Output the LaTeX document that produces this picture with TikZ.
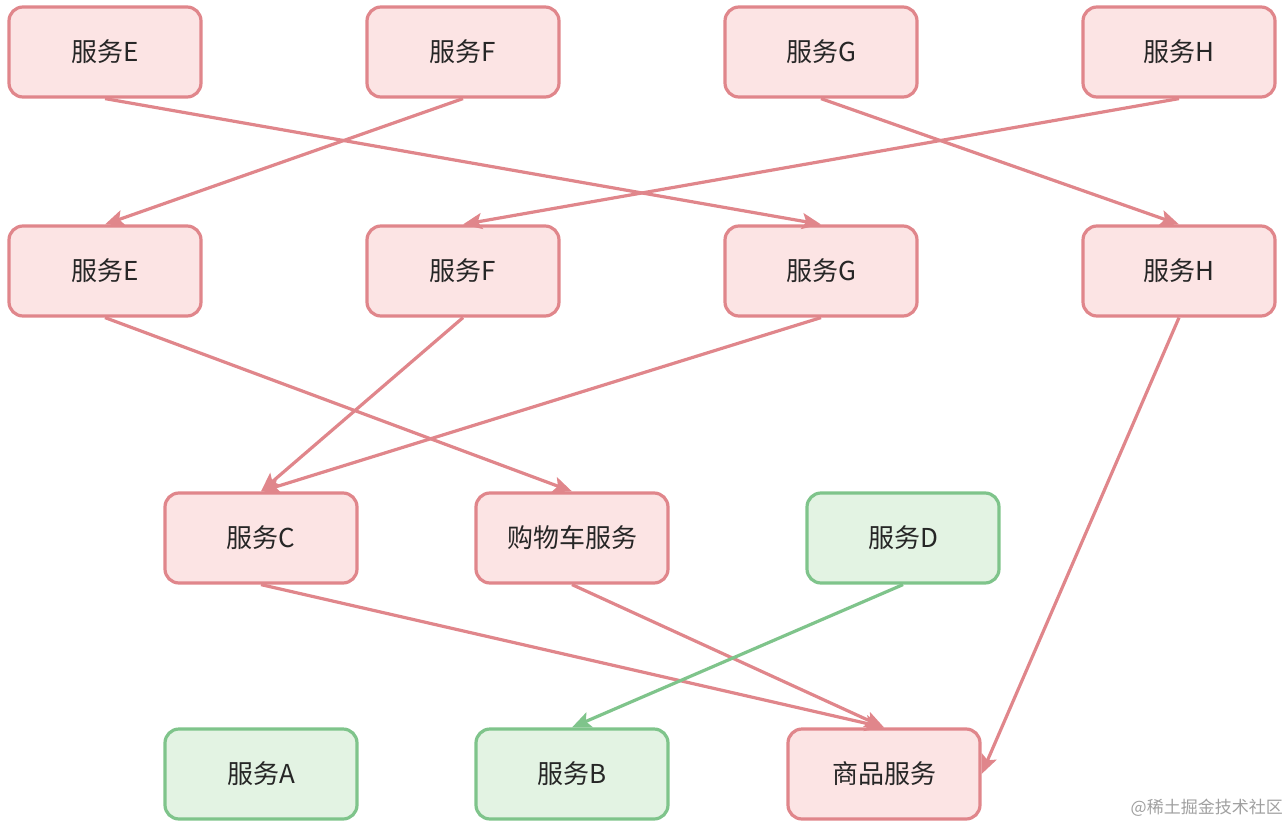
\documentclass[tikz,border=0pt]{standalone}
\usepackage{fontspec}
\setmainfont{Noto Sans CJK SC}
\usetikzlibrary{arrows.meta}
\definecolor{redstroke}{HTML}{E0868B}
\definecolor{redfill}{HTML}{FCE4E4}
\definecolor{greenstroke}{HTML}{7FC48B}
\definecolor{greenfill}{HTML}{E3F3E3}
\definecolor{txt}{HTML}{262626}
\definecolor{wm}{HTML}{A0A0A0}
\tikzset{
  svc/.style={rectangle, rounded corners=14pt, line width=3.2pt, minimum width=192pt, minimum height=90pt, inner sep=0pt, text=txt, font=\fontsize{26}{30}\selectfont},
  redbox/.style={svc, draw=redstroke, fill=redfill},
  greenbox/.style={svc, draw=greenstroke, fill=greenfill},
  conn/.style={line width=3.2pt, -{Stealth[length=19pt,width=16pt,inset=4pt]}},
  redconn/.style={conn, draw=redstroke, fill=redstroke},
  greenconn/.style={conn, draw=greenstroke, fill=greenstroke},
}
\begin{document}
\begin{tikzpicture}[x=1pt,y=-1pt]
\useasboundingbox (0,0) rectangle (1288,827);
% row 1
\node[redbox] (E1) at (105,52) {服务E};
\node[redbox] (F1) at (463,52) {服务F};
\node[redbox] (G1) at (821,52) {服务G};
\node[redbox] (H1) at (1179,52) {服务H};
% row 2
\node[redbox] (E2) at (105,271) {服务E};
\node[redbox] (F2) at (463,271) {服务F};
\node[redbox] (G2) at (821,271) {服务G};
\node[redbox] (H2) at (1179,271) {服务H};
% row 3
\node[redbox] (C) at (261,538) {服务C};
\node[redbox] (Cart) at (572,538) {购物车服务};
\node[greenbox] (D) at (903,538) {服务D};
% row 4
\node[greenbox] (A) at (261,774) {服务A};
\node[greenbox] (B) at (572,774) {服务B};
\node[redbox] (P) at (884,774) {商品服务};
% connectors
\draw[redconn] (E1.south) -- (G2.north);
\draw[redconn] (F1.south) -- (E2.north);
\draw[redconn] (G1.south) -- (H2.north);
\draw[redconn] (H1.south) -- (F2.north);
\draw[redconn] (E2.south) -- (Cart.north);
\draw[redconn] (F2.south) -- (C.north);
\draw[redconn] (G2.south) -- (C.north);
\draw[redconn] (H2.south) -- (P.east);
\draw[redconn] (C.south) -- (P.north);
\draw[redconn] (Cart.south) -- (P.north);
\draw[greenconn] (D.south) -- (B.north);
% watermark
\node[anchor=east, text=wm, font=\fontsize{17}{20}\selectfont, inner sep=0pt] (wmk) at (1283,808) {@稀土掘金技术社区};
\end{tikzpicture}
\end{document}
